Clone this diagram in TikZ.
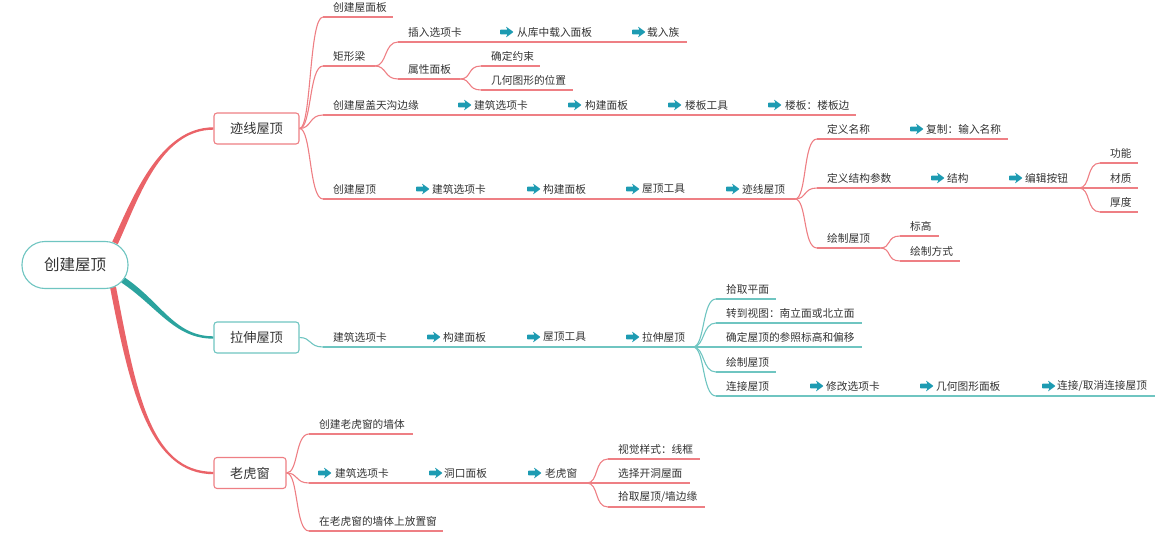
\documentclass[tikz,border=0pt]{standalone}
\usepackage{fontspec}
\setmainfont{Noto Sans CJK SC}
\usetikzlibrary{calc,backgrounds}
\definecolor{rline}{HTML}{EE7F84}
\definecolor{tline}{HTML}{6FC5C1}
\definecolor{rthick}{HTML}{EA6368}
\definecolor{tthick}{HTML}{2BA39E}
\definecolor{arrcol}{HTML}{1D9BB2}
\definecolor{txt}{HTML}{333333}
\tikzset{
  lbl/.style={inner sep=0pt, text=txt, font=\fontsize{10.7}{12}\selectfont, anchor=west},
  rl/.style={draw=rline, line width=1.1pt},
  tl/.style={draw=tline, line width=1.1pt},
  box/.style={rounded corners=3pt, line width=1.1pt, fill=white, minimum width=85pt, minimum height=31pt, font=\fontsize{13.2}{15}\selectfont, text=txt, inner sep=0pt},
  arrowicon/.pic={\fill[arrcol, rounded corners=0.6pt] (0,-2.3) -- (7.5,-2.3) -- (5.8,-5.6) -- (13.5,0) -- (5.8,5.6) -- (7.5,2.3) -- (0,2.3) -- cycle;}
}
\newcommand\mmitem[6]{%
  \coordinate (#1-s) at (#2,#4);
  \coordinate (#1-e) at (#3,#4);
  \draw[#6] (#1-s) -- (#1-e);
  \node[lbl] (#1) at (#2+10,#4-10) {#5};}
\newcommand\mmarrow[5]{%
  \pic at (#2,#4-10) {arrowicon};
  \node[lbl] (#1) at (#3,#4-10) {#5};}
\newcommand\mmlink[3]{\draw[#3] (#1) .. controls +(12,0) and +(-14,0) .. (#2);}
\begin{document}
\begin{tikzpicture}[x=1pt,y=-1pt]
\useasboundingbox (0,0) rectangle (1173,535);
% root and level-1
\node[draw=tline, line width=1.1pt, fill=white, rounded corners=23pt, minimum width=106pt, minimum height=47pt, inner sep=0pt, font=\fontsize{15.5}{18}\selectfont, text=txt] (root) at (75,265) {创建屋顶};
\node[box, draw=rline] (n1) at (256.5,128.5) {迹线屋顶};
\node[box, draw=tline] (n2) at (256.5,337.5) {拉伸屋顶};
\node[box, draw=rline, minimum width=72pt] (n3) at (250,473) {老虎窗};
\begin{scope}[on background layer]
\fill[rthick] ($(root.center)+(42.7,-20.7)$) .. controls ($(root.center)+(62.7,-63.7)$) and ($(n1.west)+(-54,1.2)$) .. ($(n1.west)+(0,1.2)$)
  -- ($(n1.west)+(0,-1.2)$) .. controls ($(n1.west)+(-54,-1.2)$) and ($(root.center)+(57.3,-66.3)$) .. ($(root.center)+(37.3,-23.3)$) -- cycle;
\fill[tthick] ($(root.center)+(46.3,17.5)$) .. controls ($(root.center)+(83.3,42.5)$) and ($(n2.west)+(-39,1.2)$) .. ($(n2.west)+(0,1.2)$)
  -- ($(n2.west)+(0,-1.2)$) .. controls ($(n2.west)+(-39,-1.2)$) and ($(root.center)+(86.7,37.5)$) .. ($(root.center)+(49.7,12.5)$) -- cycle;
\fill[rthick] ($(root.center)+(40.9,21.4)$) .. controls ($(root.center)+(60.9,124.4)$) and ($(n3.west)+(-64,-1.2)$) .. ($(n3.west)+(0,-1.2)$)
  -- ($(n3.west)+(0,1.2)$) .. controls ($(n3.west)+(-64,1.2)$) and ($(root.center)+(55.1,125.6)$) .. ($(root.center)+(35.1,22.6)$) -- cycle;
\end{scope}
% ---- 迹线屋顶
\mmitem{a1}{323}{393}{17}{创建屋面板}{rl}
\mmitem{a2}{323}{375}{66}{矩形梁}{rl}
\mmitem{a21}{398}{687}{42}{插入选项卡}{rl}
\mmarrow{a21b}{500}{517}{42}{从库中载入面板}
\mmarrow{a21c}{632}{647}{42}{载入族}
\mmitem{a22}{398}{460}{79}{属性面板}{rl}
\mmitem{a221}{481}{540}{66}{确定约束}{rl}
\mmitem{a222}{481}{573}{90}{几何图形的位置}{rl}
\mmitem{a3}{323}{856}{115}{创建屋盖天沟边缘}{rl}
\mmarrow{a3b}{458}{474}{115}{建筑选项卡}
\mmarrow{a3c}{568}{585}{115}{构建面板}
\mmarrow{a3d}{668}{685}{115}{楼板工具}
\mmarrow{a3e}{768}{785}{115}{楼板：楼板边}
\mmitem{a4}{323}{795}{199}{创建屋顶}{rl}
\mmarrow{a4b}{416}{432}{199}{建筑选项卡}
\mmarrow{a4c}{527}{543}{199}{构建面板}
\mmarrow{a4d}{626}{642}{199}{屋顶工具}
\mmarrow{a4e}{726}{742}{199}{迹线屋顶}
\mmitem{a41}{817}{1008}{139}{定义名称}{rl}
\mmarrow{a41b}{910}{926}{139}{复制：输入名称}
\mmitem{a42}{817}{1079}{188}{定义结构参数}{rl}
\mmarrow{a42b}{931}{947}{188}{结构}
\mmarrow{a42c}{1009}{1025}{188}{编辑按钮}
\mmitem{a421}{1100}{1138}{163}{功能}{rl}
\mmitem{a422}{1100}{1138}{188}{材质}{rl}
\mmitem{a423}{1100}{1138}{212}{厚度}{rl}
\mmitem{a43}{817}{880}{248}{绘制屋顶}{rl}
\mmitem{a431}{900}{939}{236}{标高}{rl}
\mmitem{a432}{900}{960}{261}{绘制方式}{rl}
\mmlink{n1.east}{a1-s}{rl}
\mmlink{n1.east}{a2-s}{rl}
\mmlink{n1.east}{a3-s}{rl}
\mmlink{n1.east}{a4-s}{rl}
\mmlink{a2-e}{a21-s}{rl}
\mmlink{a2-e}{a22-s}{rl}
\mmlink{a22-e}{a221-s}{rl}
\mmlink{a22-e}{a222-s}{rl}
\mmlink{a4-e}{a41-s}{rl}
\mmlink{a4-e}{a42-s}{rl}
\mmlink{a4-e}{a43-s}{rl}
\mmlink{a42-e}{a421-s}{rl}
\mmlink{a42-e}{a422-s}{rl}
\mmlink{a42-e}{a423-s}{rl}
\mmlink{a43-e}{a431-s}{rl}
\mmlink{a43-e}{a432-s}{rl}
% ---- 拉伸屋顶
\mmitem{l1}{323}{693}{347}{建筑选项卡}{tl}
\mmarrow{l1b}{427}{443}{347}{构建面板}
\mmarrow{l1c}{527}{543}{347}{屋顶工具}
\mmarrow{l1d}{626}{642}{347}{拉伸屋顶}
\mmitem{l11}{716}{776}{299}{拾取平面}{tl}
\mmitem{l12}{716}{862}{323}{转到视图：南立面或北立面}{tl}
\mmitem{l13}{716}{862}{347}{确定屋顶的参照标高和偏移}{tl}
\mmitem{l14}{716}{776}{372}{绘制屋顶}{tl}
\mmitem{l15}{716}{1155}{396}{连接屋顶}{tl}
\mmarrow{l15b}{810}{826}{396}{修改选项卡}
\mmarrow{l15c}{920}{936}{396}{几何图形面板}
\mmarrow{l15d}{1042}{1057}{396}{连接/取消连接屋顶}
\mmlink{n2.east}{l1-s}{tl}
\mmlink{l1-e}{l11-s}{tl}
\mmlink{l1-e}{l12-s}{tl}
\mmlink{l1-e}{l13-s}{tl}
\mmlink{l1-e}{l14-s}{tl}
\mmlink{l1-e}{l15-s}{tl}
% ---- 老虎窗
\mmitem{h1}{309}{413}{434}{创建老虎窗的墙体}{rl}
\coordinate (h2-s) at (309,483);
\coordinate (h2-e) at (587,483);
\draw[rl] (h2-s) -- (h2-e);
\mmarrow{h2}{318}{335}{483}{建筑选项卡}
\mmarrow{h2b}{429}{444}{483}{洞口面板}
\mmarrow{h2c}{528}{545}{483}{老虎窗}
\mmitem{h21}{608}{700}{459}{视觉样式：线框}{rl}
\mmitem{h22}{608}{690}{483}{选择开洞屋面}{rl}
\mmitem{h23}{608}{705}{507}{拾取屋顶/墙边缘}{rl}
\mmitem{h3}{309}{443}{531}{在老虎窗的墙体上放置窗}{rl}
\mmlink{n3.east}{h1-s}{rl}
\mmlink{n3.east}{h2-s}{rl}
\mmlink{n3.east}{h3-s}{rl}
\mmlink{h2-e}{h21-s}{rl}
\mmlink{h2-e}{h22-s}{rl}
\mmlink{h2-e}{h23-s}{rl}
\end{tikzpicture}
\end{document}
